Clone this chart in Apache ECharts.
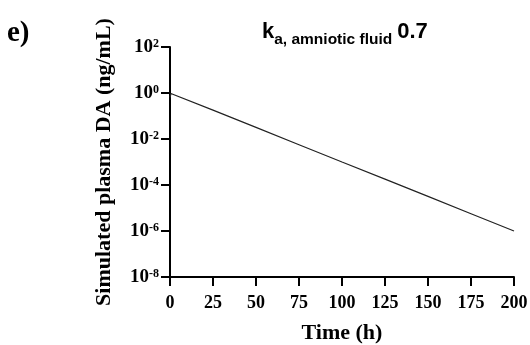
<!DOCTYPE html>
<html>
<head>
<meta charset="utf-8">
<script src="https://cdn.jsdelivr.net/npm/echarts@6/dist/echarts.min.js"></script>
<style>
  html, body { margin: 0; padding: 0; background: #fff; }
  #chart { width: 530px; height: 345px; }
</style>
</head>
<body>
<div id="chart"></div>
<script>
// Simulated plasma DA concentration over time (log scale)
const timeH = [0.1, 0.5, 1, 25, 50, 75, 100, 125, 150, 175, 200];
const plasmaDA = [0.65, 0.95, 1.0, 0.18, 0.032, 0.0056, 0.001, 0.00018, 0.000032, 0.0000056, 0.000001];
const xTicks = [0, 25, 50, 75, 100, 125, 150, 175, 200];
const yExponents = [-8, -6, -4, -2, 0, 2];

const serif = '"Liberation Serif", "Times New Roman", serif';
const sans = '"Liberation Sans", Arial, sans-serif';

const chart = echarts.init(document.getElementById('chart'), null, { renderer: 'canvas' });

chart.setOption({
  animation: false,
  backgroundColor: '#fff',
  title: {
    text: '{k|k}{s|a, amniotic fluid} {v|0.7}',
    left: 257,
    top: 16,
    textStyle: {
      rich: {
        k: { fontFamily: sans, fontWeight: 'bold', fontSize: 22, color: '#000', verticalAlign: 'bottom', padding: [0, 0, 5, 0] },
        s: { fontFamily: sans, fontWeight: 'bold', fontSize: 15.5, color: '#000', verticalAlign: 'bottom' },
        v: { fontFamily: sans, fontWeight: 'bold', fontSize: 22, color: '#000', verticalAlign: 'bottom', padding: [0, 0, 5, 0] }
      }
    }
  },
  graphic: [{
    type: 'text',
    left: 7,
    top: 19,
    style: { text: 'e)', fontFamily: serif, fontWeight: 'bold', fontSize: 29, fill: '#000' }
  }],
  grid: { left: 170, right: 16, top: 47, bottom: 68, containLabel: false, outerBoundsMode: 'none' },
  xAxis: {
    type: 'value',
    min: xTicks[0],
    max: xTicks[xTicks.length - 1],
    interval: 25,
    name: 'Time (h)',
    nameLocation: 'middle',
    nameGap: 45,
    nameTextStyle: { fontFamily: serif, fontWeight: 'bold', fontSize: 22, color: '#000' },
    axisLine: { lineStyle: { color: '#000', width: 2 } },
    axisTick: { length: 9, lineStyle: { color: '#000', width: 2 } },
    axisLabel: { margin: 17, fontFamily: serif, fontWeight: 'bold', fontSize: 18, color: '#000' },
    splitLine: { show: false }
  },
  yAxis: {
    type: 'log',
    logBase: 10,
    min: Math.pow(10, yExponents[0]),
    max: Math.pow(10, yExponents[yExponents.length - 1]),
    interval: 2,
    name: 'Simulated plasma DA (ng/mL)',
    nameLocation: 'middle',
    nameGap: 55,
    nameTextStyle: { fontFamily: serif, fontWeight: 'bold', fontSize: 22, color: '#000' },
    axisLine: { show: true, lineStyle: { color: '#000', width: 2 } },
    axisTick: { show: true, length: 9, lineStyle: { color: '#000', width: 2 } },
    axisLabel: {
      margin: 11,
      formatter: function (v) {
        const e = Math.round(Math.log10(v));
        return '{b|10}{s|' + e + '}';
      },
      rich: {
        b: { fontFamily: serif, fontWeight: 'bold', fontSize: 19, color: '#000', verticalAlign: 'bottom' },
        s: { fontFamily: serif, fontWeight: 'bold', fontSize: 12, color: '#000', verticalAlign: 'bottom', padding: [0, 0, 7, 0] }
      }
    },
    splitLine: { show: false }
  },
  series: [{
    type: 'line',
    data: timeH.map((t, i) => [t, plasmaDA[i]]),
    showSymbol: false,
    smooth: false,
    lineStyle: { color: '#222', width: 1.2 },
    clip: true
  }]
});
</script>
</body>
</html>
